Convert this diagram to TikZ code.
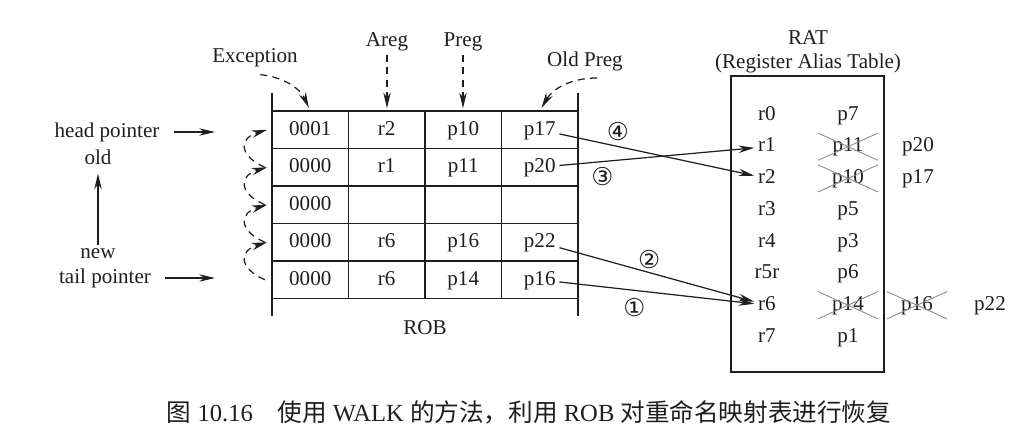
\documentclass[tikz,border=0pt]{standalone}
\usepackage{fontspec}
\setmainfont{Liberation Serif}
\newfontfamily\cjkfont{Noto Sans CJK SC}
\newfontfamily\circfont{DejaVu Sans}
\usepackage{xcolor}
\definecolor{figink}{HTML}{1E1E1E}
\definecolor{figgrey}{HTML}{8A8A8A}
\usetikzlibrary{arrows.meta,shapes.misc}

\begin{document}
\begin{tikzpicture}[
    txt/.style={font=\fontsize{12}{14}\selectfont, text=figink, inner sep=2pt},
    cell/.style={txt, text height=8.5pt, text depth=2.5pt},
    grid/.style={draw=figink, line width=0.8pt},
    ptr/.style={draw=figink, line width=0.7pt, -{Stealth[length=9pt,width=4.2pt]}},
    dptr/.style={ptr, dash pattern=on 4pt off 3pt},
    walk/.style={dptr, bend left=70, looseness=2},
    gone/.style={cell, cross out, draw=figgrey, line width=0.5pt, minimum width=1.18cm, minimum height=0.4cm},
    num/.style={font=\circfont\fontsize{14}{16}\selectfont, text=figink, inner sep=1pt},
  ]

  \useasboundingbox (0,0) rectangle (20.48,-8.74);

  \def\rh{0.75}  % ROB row height
  \def\cw{1.53}  % ROB column width
  \def\ry{0.634} % RAT row pitch

  % ---------- ROB grid
  \coordinate (robtop) at (5.44,-2.22);
  \foreach \k in {0,...,5}
    \draw[grid] (5.44,-2.22-\k*\rh) -- (11.56,-2.22-\k*\rh);
  \draw[grid] (5.44,-1.86) -- (5.44,-6.32);
  \draw[grid] (11.56,-1.86) -- (11.56,-6.32);
  \foreach \c in {1,2,3}
    \draw[grid] (5.44+\c*\cw,-2.22) -- (5.44+\c*\cw,-5.97);

  % ---------- ROB entries
  \foreach \i/\ex/\ar/\pr/\op in {1/0001/r2/p10/p17, 2/0000/r1/p11/p20,
                                  3/0000/{}/{}/{}, 4/0000/r6/p16/p22, 5/0000/r6/p14/p16} {
    \node[cell] (ex\i) at (6.205,{-2.22-(\i-0.5)*\rh}) {\ex};
    \node[cell] (ar\i) at (7.735,{-2.22-(\i-0.5)*\rh}) {\ar};
    \node[cell] (pr\i) at (9.265,{-2.22-(\i-0.5)*\rh}) {\pr};
    \node[cell] (op\i) at (10.795,{-2.22-(\i-0.5)*\rh}) {\op};
  }
  \node[txt] (rob) at (8.50,-6.56) {ROB};

  % ---------- column labels
  \node[txt] (exc) at (5.10,-1.16) {Exception};
  \node[txt] (areg) at (7.74,-0.84) {Areg};
  \node[txt] (preg) at (9.26,-0.84) {Preg};
  \node[txt] (oldp) at (11.70,-1.22) {Old Preg};
  \draw[dptr, shorten >=1.5pt] (areg) -- (areg |- robtop);
  \draw[dptr, shorten >=1.5pt] (preg) -- (preg |- robtop);
  \draw[dptr, shorten >=2pt] ([xshift=3pt,yshift=-2pt]exc.south) to[bend left=30] (ex1 |- robtop);
  \draw[dptr, shorten >=2pt] ([xshift=0.24cm,yshift=-2pt]oldp.south) to[bend right=30] (op1 |- robtop);

  % ---------- head / tail pointers
  \node[txt] (head) at (2.14,-2.64) {head pointer};
  \node[txt] (old) at (1.96,-3.14) {old};
  \node[txt] (new) at (1.96,-5.08) {new};
  \node[txt] (tail) at (2.10,-5.56) {tail pointer};
  \coordinate (headtip) at (4.30,-2.64);
  \coordinate (tailtip) at (4.30,-5.56);
  \draw[ptr, shorten <=6pt] (head) -- (headtip);
  \draw[ptr, shorten <=6pt] (tail) -- (tailtip);
  \draw[ptr, shorten >=3pt] (new) -- (old);

  % walk from the tail back to the head
  \foreach \i [count=\j from 2] in {1,...,4}
    \draw[walk] ([xshift=-0.41cm]ex\j.west) to ([xshift=-0.36cm]ex\i.west);

  % ---------- RAT
  \node[draw=figink, line width=0.8pt, minimum width=3.06cm, minimum height=5.92cm] (rat) at (16.15,-4.48) {};
  \node[txt, align=center] (ratname) at (16.16,-1.04) {RAT\\(Register Alias Table)};
  \foreach \k/\rr/\pp/\st in {0/r0/p7/cell, 1/r1/p11/gone, 2/r2/p10/gone, 3/r3/p5/cell,
                              4/r4/p3/cell, 5/r5r/p6/cell, 6/r6/p14/gone, 7/r7/p1/cell} {
    \node[cell] (ra\k) at (15.34,-2.30-\k*\ry) {\rr};
    \node[\st] (pa\k) at (16.96,-2.30-\k*\ry) {\pp};
  }
  \node[cell] (nw1) at (18.36,-2.934) {p20};
  \node[cell] (nw2) at (18.36,-3.568) {p17};
  \node[gone] (od6) at (18.34,-6.104) {p16};
  \node[cell] (nw6) at (19.80,-6.104) {p22};

  % ---------- restoring the RAT
  \draw[ptr] (op1) -- (ra2) node[num, pos=0.3, above=2pt] (st4) {④};
  \draw[ptr] (op2) -- (ra1) node[num, pos=0.22, below=2pt] (st3) {③};
  \draw[ptr] (op4) -- (ra6) node[num, pos=0.46, above=1pt] (st2) {②};
  \draw[ptr] (op5) -- (ra6) node[num, pos=0.385, below=3pt] (st1) {①};

  % ---------- caption
  \node[font=\fontsize{14}{16}\selectfont, text=figink] (cap) at (10.58,-8.24)
    {{\cjkfont 图}~10.16\quad{\cjkfont 使用}~WALK~{\cjkfont 的方法，利用}~ROB~{\cjkfont 对重命名映射表进行恢复}};

\end{tikzpicture}
\end{document}
